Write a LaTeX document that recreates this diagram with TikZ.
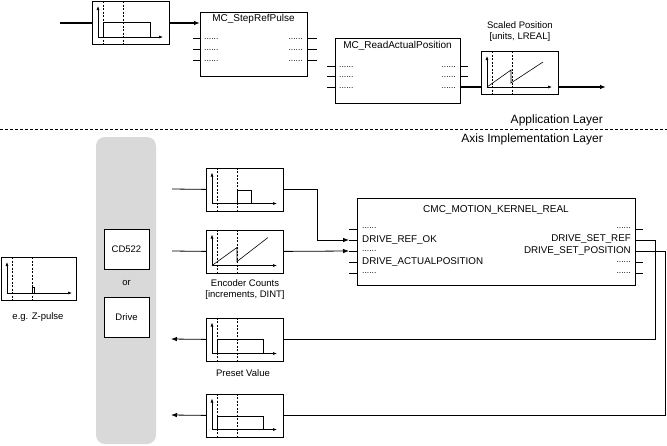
\documentclass[tikz,border=0pt]{standalone}
\usepackage{fontspec}
\setmainfont{Liberation Sans}
\usetikzlibrary{positioning,calc,arrows.meta}
\tikzset{>={Latex[length=6pt,width=4.5pt]}}
\definecolor{panelgray}{HTML}{D9D9D9}
\tikzset{
  sigbox/.style={draw,line width=.8pt,minimum width=77pt,minimum height=43pt,inner sep=0pt,anchor=north west},
  fblock/.style={draw,line width=.8pt,inner sep=0pt,anchor=north west},
  hwbox/.style={draw,line width=.8pt,fill=white,minimum width=45pt,minimum height=40pt,inner sep=0pt,font=\fontsize{9.5}{11}\selectfont},
  axis/.style={line width=.6pt,-{Latex[length=4pt,width=3pt]}},
  tline/.style={line width=.4pt,dash pattern=on 2pt off 1.5pt},
  trace/.style={line width=.6pt},
  flow/.style={line width=1.3pt},
  wire/.style={line width=.8pt},
  pinline/.style={line width=.8pt},
  fbtitle/.style={font=\fontsize{10}{12}\selectfont,inner sep=0pt},
  pinname/.style={font=\fontsize{9.8}{11}\selectfont,inner sep=0pt,text height=7pt,text depth=1.5pt},
  dots/.style={font=\fontsize{8.5}{9}\selectfont,inner sep=0pt},
  caption/.style={font=\fontsize{9.5}{11}\selectfont,align=center,inner sep=0pt},
  layer/.style={font=\fontsize{12}{14}\selectfont,inner sep=0pt,anchor=east}
}
% axes, time marks and curve of a small signal plot
\newcommand{\sigplot}[2]{%
  \begin{scope}[shift={(#1.north west)}]
    \draw[tline] (11,0) -- (11,43);
    \draw[tline] (31,0) -- (31,43);
    \draw[axis] (6,36) -- (6,5);
    \draw[axis] (6,36) -- (71,36);
    \draw[trace] #2;
  \end{scope}}

\begin{document}
\begin{tikzpicture}[x=1pt,y=-1pt]
\useasboundingbox (0,0) rectangle (667,445);

% application layer
\node[sigbox] (stepsig) at (92,1) {};
\sigplot{stepsig}{(11,36) -- (11,21) -- (58,21) -- (58,36)}
\node[fblock,minimum width=107pt,minimum height=64pt] (srp) at (200,12) {};
\node[fbtitle] (srp-t) at (253.5,19) {MC\_StepRefPulse};
\foreach \y [count=\i] in {38,49,60} {
  \coordinate (srp-i\i) at (193,\y);
  \coordinate (srp-o\i) at (317,\y);
  \draw[pinline] (srp-i\i) -- (srp-i\i -| srp.west);
  \draw[pinline] (srp-o\i -| srp.east) -- (srp-o\i);
  \node[dots,anchor=base west] (srp-dl\i) at (204,\y+1) {......};
  \node[dots,anchor=base east] (srp-dr\i) at (303,\y+1) {......};
}
\coordinate (topin) at (60,23);
\draw[flow] (topin) -- (topin -| stepsig.west);
\draw[flow,->] (stepsig.east |- topin) -- (topin -| srp.west);

\node[fblock,minimum width=125pt,minimum height=65pt] (rap) at (335,38) {};
\node[fbtitle] (rap-t) at (397.5,46) {MC\_ReadActualPosition};
\foreach \y [count=\i] in {66,76,87} {
  \coordinate (rap-i\i) at (327,\y);
  \coordinate (rap-o\i) at (468,\y);
  \draw[pinline] (rap-i\i) -- (rap-i\i -| rap.west);
  \draw[pinline] (rap-o\i -| rap.east) -- (rap-o\i);
  \node[dots,anchor=base west] (rap-dl\i) at (339,\y+1) {......};
  \node[dots,anchor=base east] (rap-dr\i) at (456,\y+1) {......};
}
\node[sigbox] (scaledsig) at (481,51) {};
\sigplot{scaledsig}{(6,36) -- (30,19) -- (30,32) -- (62,11)}
\node[caption,above=9pt of scaledsig] (scaledlbl) {Scaled Position\\{}[units, LREAL]};
\draw[flow] (rap-o3 -| rap.east) -- (rap-o3 -| scaledsig.west);
\coordinate (topout) at (606,87);
\draw[flow,->] (scaledsig.east |- topout) -- (topout);

% layer border
\draw[line width=.7pt,dash pattern=on 3pt off 2pt] (0,129) -- (667,129);
\node[layer] (applayer) at (603,120) {Application Layer};
\node[layer] (axislayer) at (603,139) {Axis Implementation Layer};

% hardware
\fill[panelgray,rounded corners=9pt] (96,137) rectangle (156,444);
\node[hwbox] (cd522) at (126.5,249) {CD522};
\node[caption] (or) at (126.5,283) {or};
\node[hwbox] (drive) at (126.5,317) {Drive};

\node[sigbox,minimum width=75pt] (zsig) at (1,257) {};
\sigplot{zsig}{(31,36) -- (31,30) -- (33,30) -- (33,36)}
\node[caption] (zlbl) at (38,317) {e.g. Z-pulse};

% signals of the axis
\node[sigbox] (refsig) at (206,167.5) {};
\sigplot{refsig}{(31,36) -- (31,23) -- (45,23) -- (45,36)}
\node[sigbox] (encsig) at (206,229.5) {};
\sigplot{encsig}{(6,36) -- (31,18) -- (31,32) -- (62,8)}
\node[caption] (enclbl) at (245,290) {Encoder Counts\\{}[increments, DINT]};
\node[sigbox] (presetsig) at (206,317.5) {};
\sigplot{presetsig}{(11,36) -- (11,22) -- (57,22) -- (57,36)}
\node[caption] (presetlbl) at (243,373) {Preset Value};
\node[sigbox] (possig) at (206,393.5) {};
\sigplot{possig}{(11,36) -- (11,23) -- (57,23) -- (57,36)}

% motion kernel
\node[fblock,minimum width=278pt,minimum height=87pt] (kernel) at (357,198) {};
\node[fbtitle] (kernel-t) at (496,210) {CMC\_MOTION\_KERNEL\_REAL};
\foreach \y [count=\i] in {229,240,251,262,273} {
  \coordinate (k-i\i) at (349,\y);
  \coordinate (k-o\i) at (643,\y);
  \draw[pinline] (k-i\i) -- (k-i\i -| kernel.west);
  \draw[pinline] (k-o\i -| kernel.east) -- (k-o\i);
}
\node[dots,anchor=base west] (k-dl1) at (362,228.5) {......};
\node[pinname,anchor=west] (k-ref) at (362,239.5) {DRIVE\_REF\_OK};
\node[dots,anchor=base west] (k-dl3) at (362,251) {......};
\node[pinname,anchor=west] (k-act) at (362,261.5) {DRIVE\_ACTUALPOSITION};
\node[dots,anchor=base west] (k-dl5) at (362,273) {......};
\node[dots,anchor=base east] (k-dr1) at (631,228.5) {......};
\node[pinname,anchor=east] (k-setref) at (631,239) {DRIVE\_SET\_REF};
\node[pinname,anchor=east] (k-setpos) at (631,251) {DRIVE\_SET\_POSITION};
\node[dots,anchor=base east] (k-dr4) at (631,262) {......};
\node[dots,anchor=base east] (k-dr5) at (631,273) {......};

% connections
\coordinate (refin) at (172,189);
\draw[wire] (refin) -- (refsig.west);
\draw[wire,->] (refsig.east) -- ++(34,0) |- (k-i2);
\coordinate (encin) at (172,251);
\draw[wire] (encin) -- (encsig.west);
\draw[wire,->] (encsig.east) -- (k-i3);
\draw[wire] (k-o2) -- ++(12,0) |- (presetsig.east);
\draw[wire] (k-o3) -- ++(22,0) |- (possig.east);
\coordinate (presetout) at (171,339);
\draw[wire,->] (presetsig.west) -- (presetout);
\coordinate (posout) at (171,415);
\draw[wire,->] (possig.west) -- (posout);
\end{tikzpicture}
\end{document}
